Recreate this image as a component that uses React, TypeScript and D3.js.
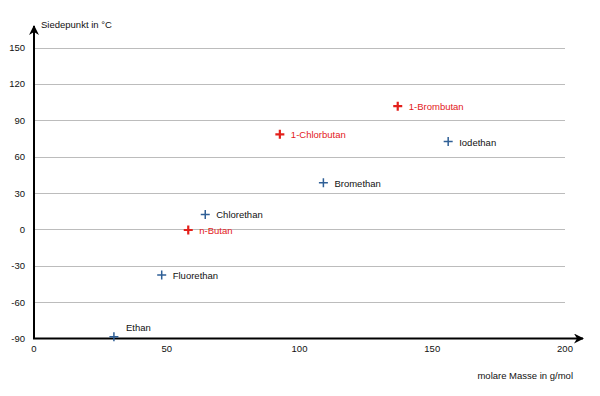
import { useEffect, useRef } from "react";
import * as d3 from "d3";

const names = ["Ethan", "Fluorethan", "Chlorethan", "n-Butan", "Bromethan", "1-Chlorbutan", "1-Brombutan", "Iodethan"];
const masses = [30.1, 48.1, 64.5, 58.1, 109.0, 92.6, 137.0, 156.0];
const boilingPoints = [-88.6, -37.7, 12.3, -0.5, 38.4, 78.4, 101.6, 72.4];
const groups = ["ethyl", "ethyl", "ethyl", "butyl", "ethyl", "butyl", "butyl", "ethyl"];
const xTicks = [0, 50, 100, 150, 200];
const yTicks = [-90, -60, -30, 0, 30, 60, 90, 120, 150];

const BLUE = "#2f5f96";
const RED = "#e3201b";

export default function App() {
  const svgRef = useRef<SVGSVGElement>(null);

  useEffect(() => {
    const svg = d3.select(svgRef.current);
    svg.selectAll("*").remove();
    const font = "'Liberation Sans', Arial, sans-serif";
    const fs = 9.5;

    const x = d3.scaleLinear().domain([0, 200]).range([34, 565]);
    const y = d3.scaleLinear().domain([-90, 150]).range([338.5, 47.5]);

    // grid lines
    svg
      .append("g")
      .selectAll("line")
      .data(yTicks.filter((t) => t !== -90))
      .enter()
      .append("line")
      .attr("x1", x(0))
      .attr("x2", x(200))
      .attr("y1", (d) => Math.round(y(d)) + 0.5)
      .attr("y2", (d) => Math.round(y(d)) + 0.5)
      .attr("stroke", "#bcbcbc")
      .attr("stroke-width", 1);

    // y tick labels
    svg
      .append("g")
      .selectAll("text")
      .data(yTicks)
      .enter()
      .append("text")
      .attr("x", 25)
      .attr("y", (d) => y(d) + 3.5)
      .attr("text-anchor", "end")
      .attr("font-family", font)
      .attr("font-size", fs)
      .attr("fill", "#111")
      .text((d) => d);

    // x tick labels
    svg
      .append("g")
      .selectAll("text")
      .data(xTicks)
      .enter()
      .append("text")
      .attr("x", (d) => x(d))
      .attr("y", 352)
      .attr("text-anchor", "middle")
      .attr("font-family", font)
      .attr("font-size", fs)
      .attr("fill", "#111")
      .text((d) => d);

    // axes with arrows
    svg
      .append("defs")
      .append("marker")
      .attr("id", "arrow")
      .attr("viewBox", "0 0 10 10")
      .attr("refX", 9)
      .attr("refY", 5)
      .attr("markerWidth", 5)
      .attr("markerHeight", 5)
      .attr("orient", "auto")
      .append("path")
      .attr("d", "M0,0 L10,5 L0,10 L3,5 Z")
      .attr("fill", "#000");

    svg
      .append("line")
      .attr("x1", x(0))
      .attr("y1", y(-90))
      .attr("x2", x(0))
      .attr("y2", 26)
      .attr("stroke", "#000")
      .attr("stroke-width", 2)
      .attr("marker-end", "url(#arrow)");

    svg
      .append("line")
      .attr("x1", x(0) - 1)
      .attr("y1", y(-90))
      .attr("x2", 583)
      .attr("y2", y(-90))
      .attr("stroke", "#000")
      .attr("stroke-width", 2)
      .attr("marker-end", "url(#arrow)");

    svg
      .append("text")
      .attr("x", 41)
      .attr("y", 28)
      .attr("font-family", font)
      .attr("font-size", fs)
      .attr("fill", "#111")
      .text("Siedepunkt in °C");

    svg
      .append("text")
      .attr("x", 573)
      .attr("y", 379)
      .attr("text-anchor", "end")
      .attr("font-family", font)
      .attr("font-size", fs)
      .attr("fill", "#111")
      .text("molare Masse in g/mol");

    const data = names.map((n, i) => ({
      name: n,
      m: masses[i],
      t: boilingPoints[i],
      g: groups[i],
    }));

    const pts = svg
      .append("g")
      .selectAll("g")
      .data(data)
      .enter()
      .append("g")
      .attr("transform", (d) => `translate(${x(d.m)},${y(d.t)})`);

    pts
      .append("path")
      .attr("d", "M-4.5,0 L4.5,0 M0,-4.5 L0,4.5")
      .attr("stroke", (d) => (d.g === "butyl" ? RED : BLUE))
      .attr("stroke-width", (d) => (d.g === "butyl" ? 2.2 : 1.5))
      .attr("fill", "none");

    pts
      .append("text")
      .attr("x", (d) => (d.name === "Ethan" ? 12 : 11))
      .attr("y", (d) => (d.name === "Ethan" ? -6 : 4))
      .attr("font-family", font)
      .attr("font-size", fs)
      .attr("fill", (d) => (d.g === "butyl" ? RED : "#111"))
      .text((d) => d.name);
  }, []);

  return (
    <svg
      ref={svgRef}
      width={600}
      height={396}
      style={{ position: "absolute", left: 0, top: 0, background: "#fff" }}
    />
  );
}
